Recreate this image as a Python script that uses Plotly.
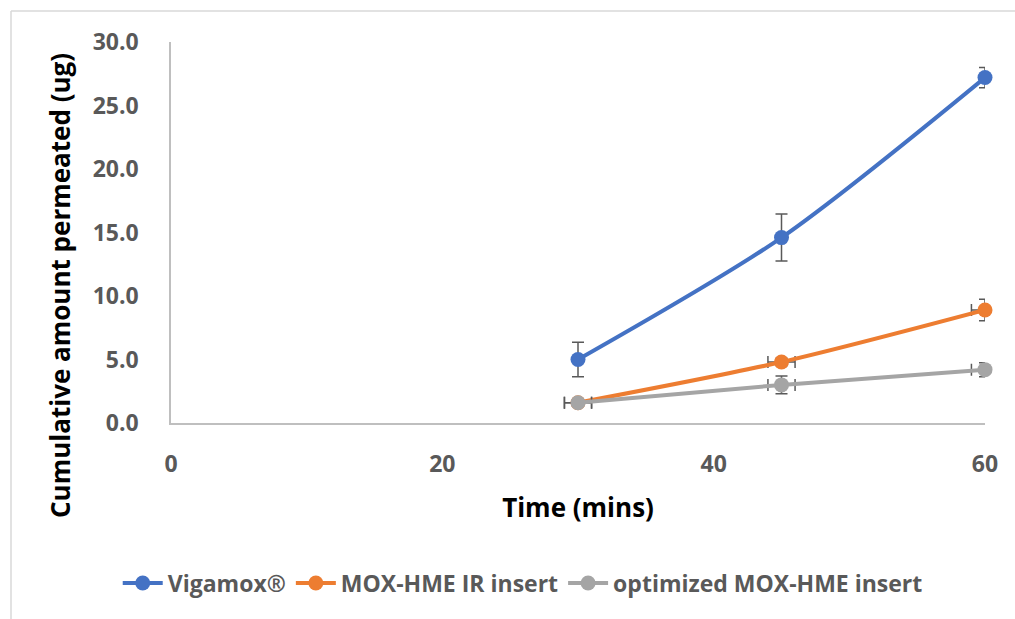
import plotly.graph_objects as go

# Sampling times (minutes)
time_min = [30, 45, 60]

# Cumulative amount permeated (ug) and standard deviations
vigamox = [5.0, 14.6, 27.2]
vigamox_sd = [1.35, 1.85, 0.8]

mox_ir = [1.6, 4.8, 8.9]
mox_ir_sd = [0.2, 0.3, 0.85]

mox_opt = [1.6, 3.0, 4.2]
mox_opt_sd = [0.2, 0.7, 0.55]

# Horizontal (time) uncertainty, minutes
time_sd = [1.0, 1.0, 1.0]

series_names = ["Vigamox®", "MOX-HME IR insert", "optimized MOX-HME insert"]
colors = ["#4472C4", "#ED7D31", "#A5A5A5"]

y_ticks = [0, 5, 10, 15, 20, 25, 30]
x_ticks = [0, 20, 40, 60]

err_color = "#595959"
font_family = "Open Sans"

fig = go.Figure()

def add_series(y, ysd, name, color, with_x_err):
    kwargs = {}
    if with_x_err:
        kwargs["error_x"] = dict(type="data", array=time_sd, color=err_color,
                                 thickness=1.5, width=6)
    fig.add_trace(go.Scatter(
        x=time_min, y=y, name=name, mode="lines+markers", cliponaxis=False,
        line=dict(color=color, width=4, shape="spline", smoothing=0.8),
        marker=dict(color=color, size=15),
        error_y=dict(type="data", array=ysd, color=err_color,
                     thickness=1.5, width=6),
        **kwargs,
    ))

add_series(vigamox, vigamox_sd, series_names[0], colors[0], False)
add_series(mox_ir, mox_ir_sd, series_names[1], colors[1], True)
add_series(mox_opt, mox_opt_sd, series_names[2], colors[2], True)

axis_font = dict(family=font_family, size=23, color="#595959", weight="bold")
title_font = dict(family=font_family, size=26, color="#000000", weight="bold")

fig.update_layout(
    width=1015, height=619,
    margin=dict(l=171, r=30, t=42, b=196),
    paper_bgcolor="white", plot_bgcolor="white",
    showlegend=True,
    legend=dict(orientation="h", xref="container", x=0.515, xanchor="center",
                yref="container", y=0.058, yanchor="middle",
                font=dict(family=font_family, size=23, color="#595959", weight="bold"),
                itemwidth=40, tracegroupgap=0),
    xaxis=dict(range=[0, 60], tickvals=x_ticks, ticktext=[str(v) for v in x_ticks],
               showgrid=False, zeroline=False, showline=True, linecolor="#BFBFBF",
               linewidth=1.5, ticks="", tickfont=axis_font, ticklabelstandoff=20,
               title=dict(text="Time (mins)", font=title_font, standoff=20)),
    yaxis=dict(range=[0, 30], tickvals=y_ticks, ticktext=[f"{v:.1f}" for v in y_ticks],
               showgrid=False, zeroline=False, showline=True, linecolor="#BFBFBF",
               linewidth=1.5, ticks="", tickfont=axis_font, ticklabelstandoff=26),
    annotations=[
        dict(text="Cumulative amount permeated (ug)", textangle=-90,
             xref="paper", yref="paper", x=(60 - 171) / 814, y=(423 - 286) / 381,
             xanchor="center", yanchor="middle", showarrow=False, font=title_font),
    ],
    shapes=[
        dict(type="line", xref="paper", yref="paper",
             x0=(11 - 171) / 814, x1=(1015 - 171) / 814,
             y0=(423 - 11) / 381, y1=(423 - 11) / 381,
             line=dict(color="#D9D9D9", width=1.5)),
        dict(type="line", xref="paper", yref="paper",
             x0=(11 - 171) / 814, x1=(11 - 171) / 814,
             y0=(423 - 11) / 381, y1=(423 - 619) / 381,
             line=dict(color="#D9D9D9", width=1.5)),
    ],
)

fig.write_html("out.html")
